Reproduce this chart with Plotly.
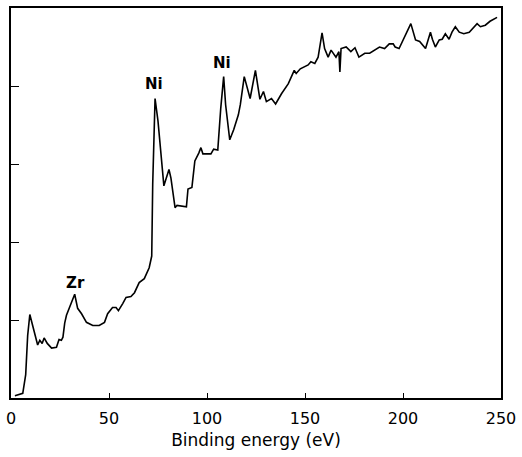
import plotly.graph_objects as go

energy = [2, 6, 7.5, 8.5, 9.6, 10.6, 12, 13.6, 14.7, 15.9, 16.9, 18.5, 20.7, 23.2, 24.5, 25.7, 26.5, 27.4, 28.3,
          30.5, 32.5, 34, 36, 38.5, 41.7, 45, 47.7, 49.3, 51.8, 53.6, 54.8, 57, 58.7, 61.2, 63, 65.4, 68, 70.5,
          71.8, 72.3, 73.5, 75, 78, 80.6, 81.6, 83.7, 84.7, 89.5, 90.3, 92.3, 93.8, 95.8, 96.9, 97.9, 102, 103.4,
          105.5, 107, 108.5, 109.5, 111.6, 113.6, 116, 117, 119, 122, 124.7, 126, 127, 128.8, 130.3, 132.9, 135,
          138, 141.5, 144.5, 145.5, 147.6, 151.6, 153, 155, 156.7, 158.7, 160, 161.8, 163.3, 165.8, 167.3, 167.8,
          168.4, 171, 173.4, 175.5, 177.5, 180.5, 183, 185.6, 188, 190.6, 193, 195, 196, 198, 200.8, 204, 206.4,
          208.5, 211.5, 214, 215, 216.5, 218.5, 220, 221.6, 223.5, 225, 226.7, 228.7, 231, 233.8, 236.3, 237.8,
          239.5, 242, 244.4, 248]
intensity = [0.03, 0.06, 0.3, 0.8, 1.07, 0.97, 0.82, 0.68, 0.74, 0.70, 0.77, 0.70, 0.64, 0.65, 0.75, 0.74, 0.78, 0.96, 1.06,
             1.2, 1.33, 1.15, 1.08, 0.97, 0.93, 0.93, 0.97, 1.08, 1.16, 1.16, 1.12, 1.21, 1.29, 1.30, 1.35, 1.48, 1.53, 1.67,
             1.82, 2.74, 3.84, 3.55, 2.72, 2.93, 2.82, 2.44, 2.47, 2.45, 2.68, 2.70, 3.04, 3.14, 3.21, 3.13, 3.13, 3.19,
             3.18, 3.71, 4.12, 3.76, 3.31, 3.44, 3.63, 3.76, 4.12, 3.84, 4.2, 3.99, 3.83, 3.93, 3.80, 3.84, 3.77,
             3.9, 4.03, 4.2, 4.16, 4.22, 4.27, 4.31, 4.29, 4.37, 4.68, 4.48, 4.37, 4.46, 4.37, 4.44, 4.18,
             4.48, 4.5, 4.44, 4.49, 4.37, 4.42, 4.42, 4.46, 4.5, 4.48, 4.54, 4.54, 4.5, 4.48, 4.63, 4.8, 4.59,
             4.57, 4.48, 4.69, 4.6, 4.5, 4.59, 4.6, 4.67, 4.6, 4.69, 4.76, 4.69, 4.67, 4.69, 4.76, 4.8,
             4.76, 4.78, 4.83, 4.88]

peak_labels = ["Zr", "Ni", "Ni"]
peak_x = [33, 73, 107.5]
peak_y = [1.48, 4.02, 4.29]

x_ticks = [0, 50, 100, 150, 200, 250]
y_ticks = [1, 2, 3, 4]

fig = go.Figure()
fig.add_trace(go.Scatter(x=energy, y=intensity, mode="lines",
                         line=dict(color="black", width=1.6), showlegend=False))

for lab, px, py in zip(peak_labels, peak_x, peak_y):
    fig.add_annotation(x=px, y=py, text="<b>" + lab + "</b>", showarrow=False,
                       font=dict(size=15, color="black", family="DejaVu Sans"))

fig.update_layout(
    width=522, height=457,
    margin=dict(l=11, r=18, t=6, b=59),
    paper_bgcolor="white", plot_bgcolor="white",
    font=dict(family="DejaVu Sans", color="black", size=16),
    xaxis=dict(range=[0, 250], tickvals=x_ticks, ticks="inside", ticklen=5, tickwidth=1,
               tickcolor="black", showline=True, linecolor="black", linewidth=2, mirror=True,
               showgrid=False, zeroline=False, ticklabelstandoff=5,
               title=dict(text="Binding energy (eV)", font=dict(size=17), standoff=7),
               tickfont=dict(size=16)),
    yaxis=dict(range=[0, 5], tickvals=y_ticks, ticks="inside", ticklen=8, tickwidth=1,
               tickcolor="black", showline=True, linecolor="black", linewidth=2, mirror=True,
               showgrid=False, zeroline=False, showticklabels=False),
)

fig.write_html("out.html")
